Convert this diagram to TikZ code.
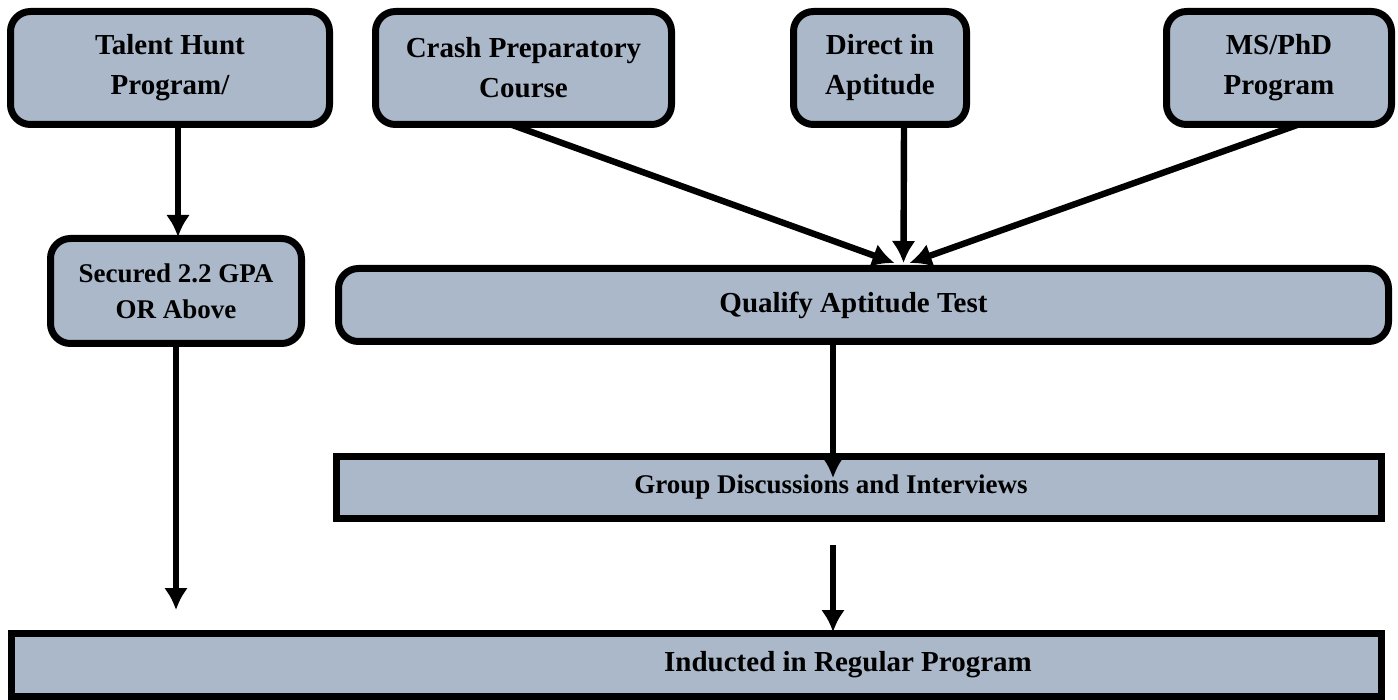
\documentclass[tikz,border=0pt]{standalone}
\usepackage{fontspec}
\setmainfont{Liberation Serif}
\usepackage{tikz}
\usetikzlibrary{arrows.meta}
\definecolor{boxfill}{HTML}{ABB8C9}

\begin{document}
\begin{tikzpicture}[->,>={Latex[length=11pt,width=12pt]},auto,line width=3.2pt,x=0.5pt,y=-0.5pt]
  \tikzstyle{box}=[draw=black,fill=boxfill,text=black,line width=3.5pt,inner sep=0pt,
                   align=center,font=\fontsize{14.5}{20}\selectfont\bfseries]
  \tikzstyle{rbox}=[box,rounded corners=10pt]

  \useasboundingbox (0,0) rectangle (1398,700);

  \node[rbox,minimum width=159.5pt,minimum height=56.5pt] at ( 170, 68) (talent) {Talent Hunt\\Program/};
  \node[rbox,minimum width=148pt,minimum height=56.5pt]   at (523.5,68) (crash)  {Crash Preparatory\\Course};
  \node[rbox,minimum width=86.5pt,minimum height=56.5pt]  at ( 880, 68) (direct) {Direct in\\Aptitude};
  \node[rbox,minimum width=112.5pt,minimum height=56.5pt] at (1279, 68) (msphd)  {MS/PhD\\Program};
  \node[rbox,minimum width=125.5pt,minimum height=52.5pt,font=\fontsize{13.5}{18}\selectfont\bfseries]
                                                          at ( 176,291) (gpa)    {Secured 2.2 GPA\\OR Above};
  \node[rbox,minimum width=525pt,minimum height=36.5pt]   at (863.5,305) (qualify) {Qualify Aptitude Test\hspace*{10pt}};
  \node[box,minimum width=522.5pt,minimum height=31pt,font=\fontsize{13.5}{18}\selectfont\bfseries]
                                                          at (859,487.5) (gd)    {Group Discussions and Interviews\hspace*{28pt}};
  \node[box,minimum width=685pt,minimum height=31.5pt,font=\fontsize{14.5}{18}\selectfont\bfseries]
                                                          at (696,665) (induct) {\hspace*{152pt}Inducted in Regular Program};

  \coordinate (gpaend) at (176,610);
  \coordinate (gdend)  at (833,478);
  \coordinate (gdout)  at (833,545);

  \path ([xshift=4pt,yshift=3pt]talent.south) edge ([xshift=1pt,yshift=-1pt]gpa.north)
        ([yshift=3pt]gpa.south)               edge (gpaend)
        ([xshift=-7pt,yshift=2pt]crash.south) edge ([xshift=15.5pt,yshift=1pt]qualify.north)
        ([xshift=12pt,yshift=2pt]direct.south) edge ([xshift=20pt,yshift=1pt]qualify.north)
        ([xshift=10.5pt,yshift=2pt]msphd.south) edge ([xshift=23pt,yshift=1pt]qualify.north)
        ([xshift=-15.25pt]qualify.south)      edge (gdend)
        (gdout)                               edge ([xshift=68.5pt,yshift=-1pt]induct.north);
\end{tikzpicture}
\end{document}
